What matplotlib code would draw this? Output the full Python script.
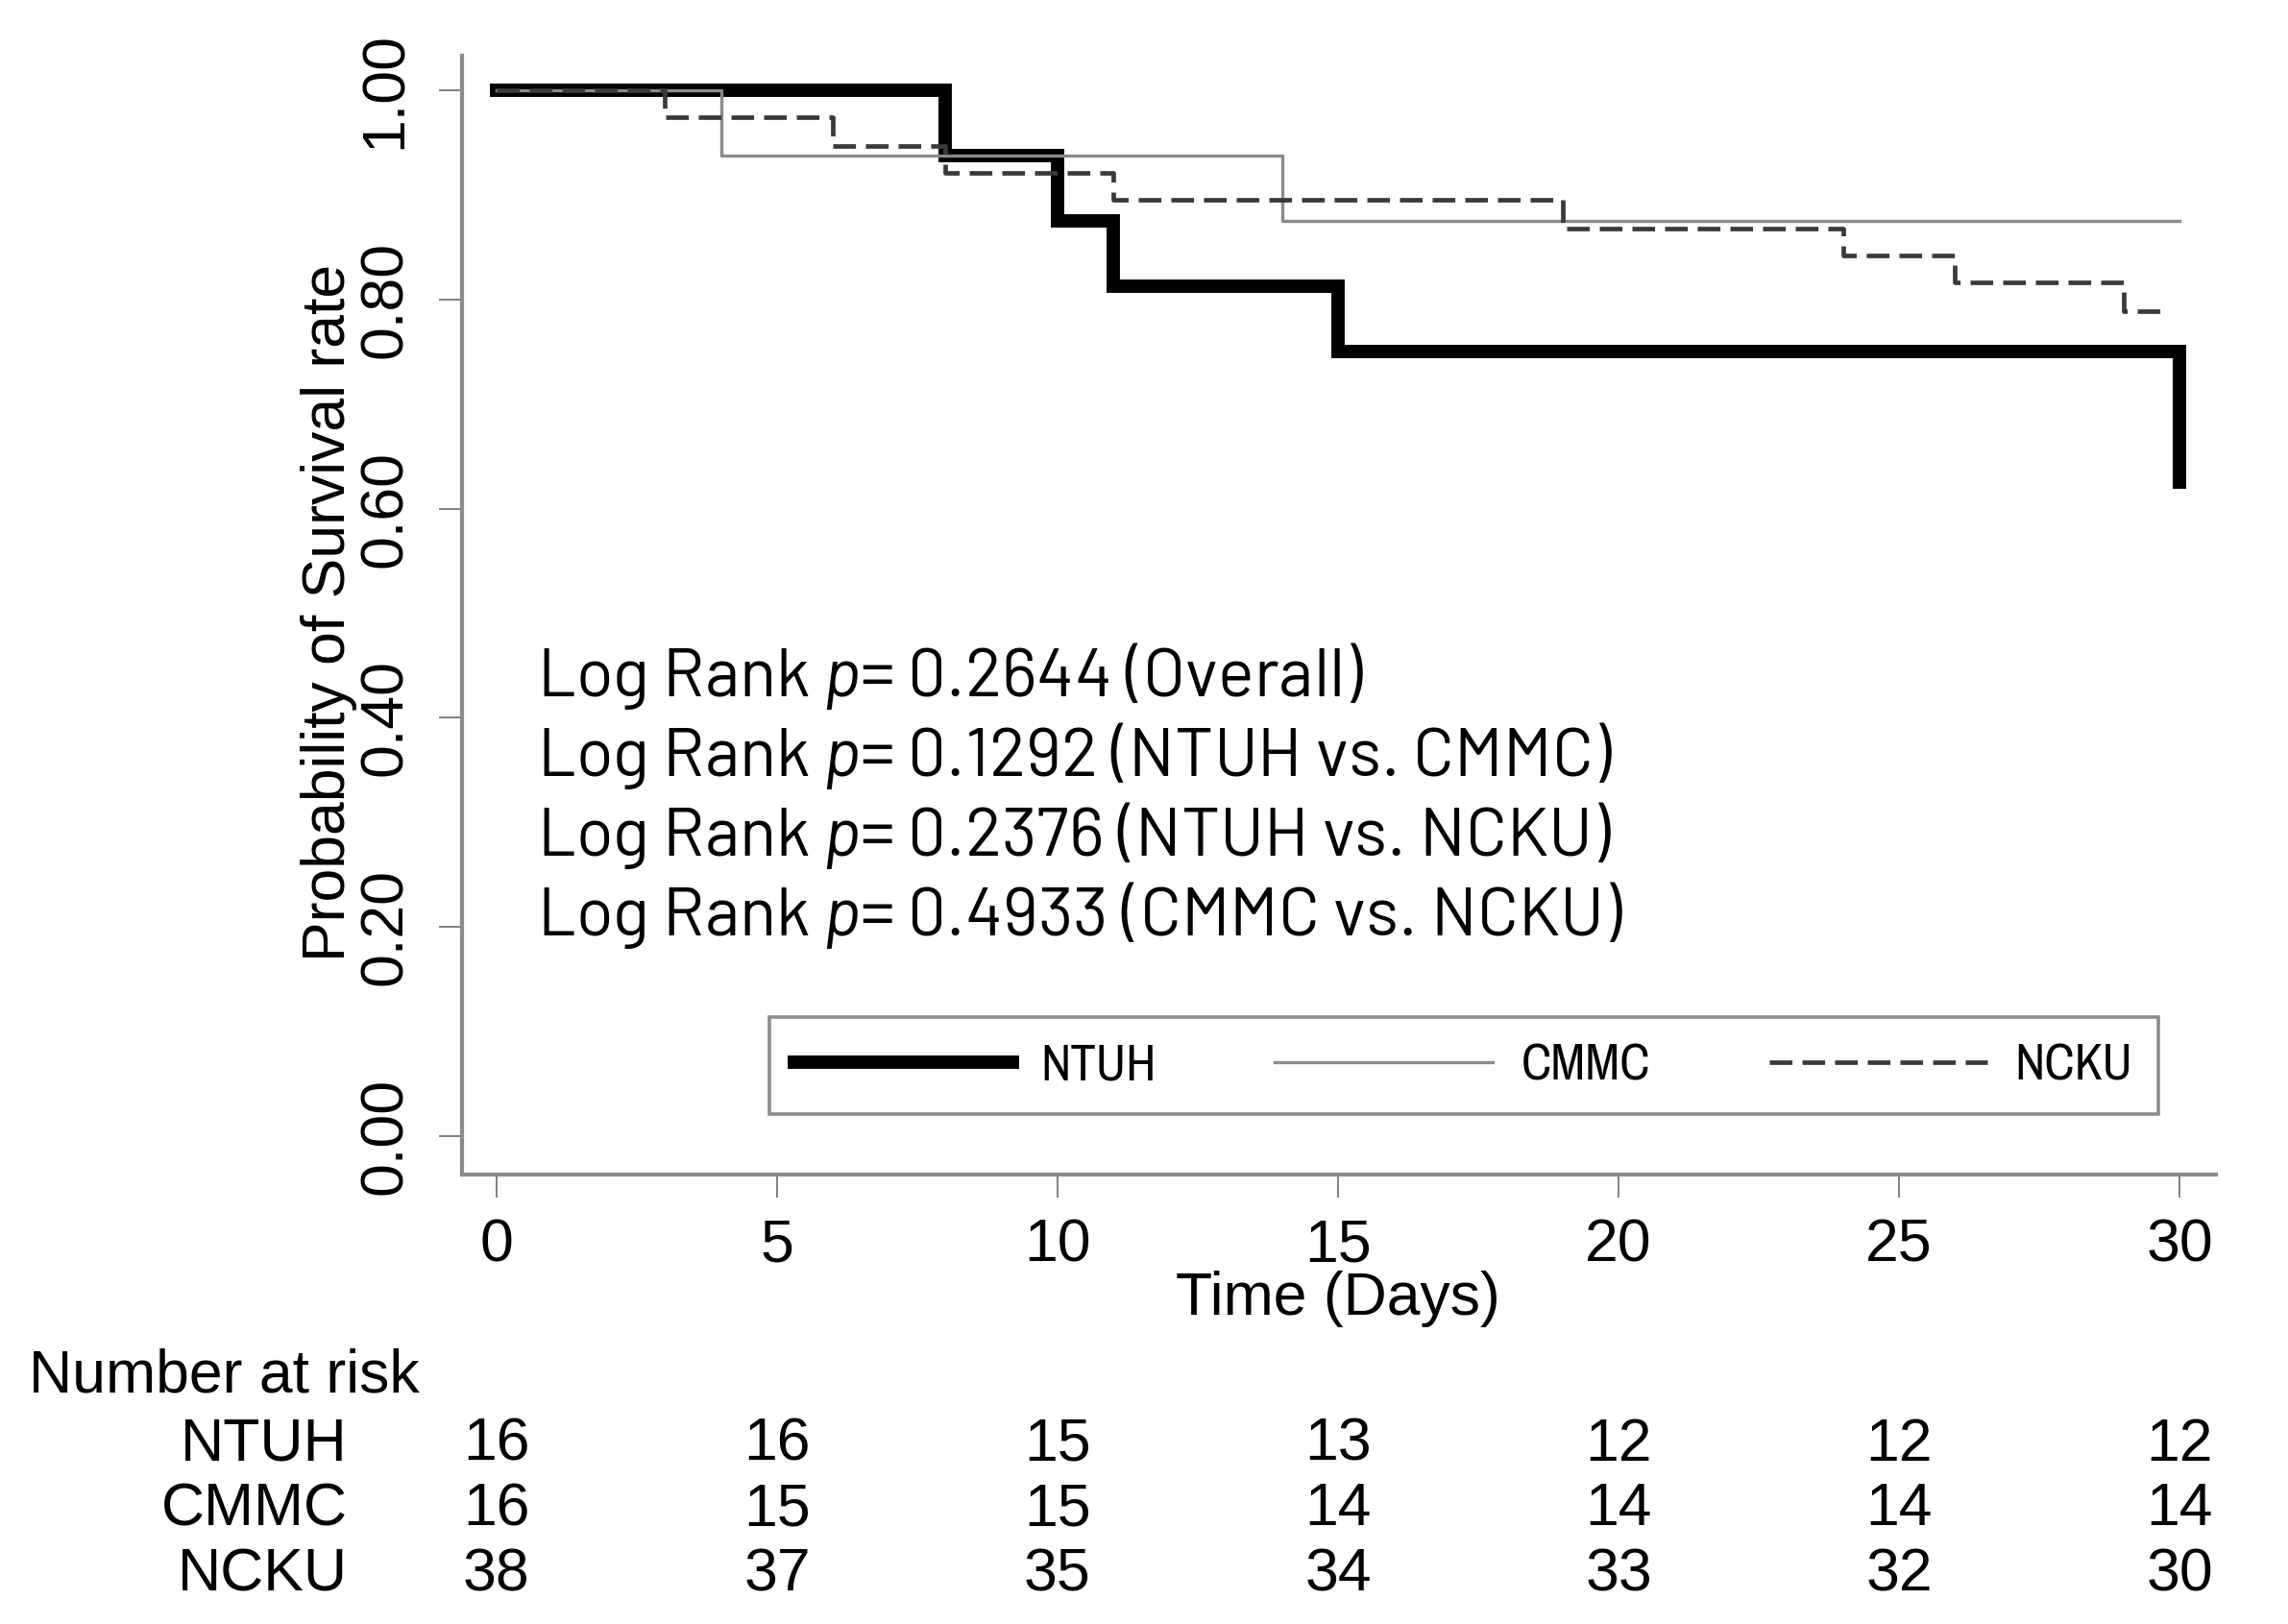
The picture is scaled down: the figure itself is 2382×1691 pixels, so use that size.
import matplotlib
matplotlib.use("Agg")
import matplotlib.pyplot as plt
from matplotlib import font_manager as fm
from matplotlib.lines import Line2D

# Kaplan-Meier steps (time in days, survival probability)
ntuh_t = [0, 8, 10, 11, 15, 30]
ntuh_s = [1.0, 0.9375, 0.875, 0.8125, 0.75, 0.625]
cmmc_t = [0, 4, 14, 30]
cmmc_s = [1.0, 0.9375, 0.875, 0.875]
ncku_t = [0, 3, 6, 8, 11, 19, 24, 26, 29, 29.65]
ncku_s = [1.0, 0.974, 0.947, 0.921, 0.895, 0.868, 0.842, 0.816, 0.789, 0.789]

groups = ["NTUH", "CMMC", "NCKU"]
risk_times = [0, 5, 10, 15, 20, 25, 30]
risk_ntuh = [16, 16, 15, 13, 12, 12, 12]
risk_cmmc = [16, 15, 15, 14, 14, 14, 14]
risk_ncku = [38, 37, 35, 34, 33, 32, 30]

pvals = ["0.2644", "0.1292", "0.2376", "0.4933"]
pcomp = ["Overall", "NTUH vs. CMMC", "NTUH vs. NCKU", "CMMC vs. NCKU"]

yticks = [0, 0.2, 0.4, 0.6, 0.8, 1.0]
xticks = [0, 5, 10, 15, 20, 25, 30]

have = {f.name for f in fm.fontManager.ttflist}
# legend text is in a narrow face, annotations in a DIN-like face
narrow_font = "Archivo Narrow" if "Archivo Narrow" in have else "Liberation Sans"
din_font = "Barlow" if "Barlow" in have else "Open Sans"

plt.rcParams["font.family"] = ["Liberation Sans", "DejaVu Sans"]
plt.rcParams["mathtext.fontset"] = "custom"
plt.rcParams["mathtext.rm"] = din_font
plt.rcParams["mathtext.it"] = din_font + ":italic"

fig = plt.figure(figsize=(23.82, 16.91), dpi=100)
ax = fig.add_axes([0.2019, 0.2768, 0.7666, 0.6889])

ax.step(ntuh_t, ntuh_s, where="post", color="black", lw=10, solid_joinstyle="miter")
ax.step(cmmc_t, cmmc_s, where="post", color="#8a8a8a", lw=2.4)
ax.step(ncku_t, ncku_s, where="post", color="#3a3a3a", lw=3.4, dashes=(5, 2.2))

ax.set_xlim(-0.616, 30.65)
ax.set_ylim(-0.0367, 1.033)
ax.set_xticks(xticks)
ax.set_yticks(yticks)
ax.set_yticklabels([f"{v:.2f}" for v in yticks], rotation=90, va="center")

for s in ["top", "right"]:
    ax.spines[s].set_visible(False)
for s in ["left", "bottom"]:
    ax.spines[s].set_color("#8c8c8c")
    ax.spines[s].set_linewidth(3)

ax.tick_params(axis="x", length=17, width=1.4, color="#808080", pad=15, labelsize=45)
ax.tick_params(axis="y", length=17, width=1.4, color="#808080", pad=19, labelsize=45)

ax.set_xlabel("Time (Days)", fontsize=45)
ax.xaxis.label.set_va("center")
ax.xaxis.set_label_coords(0.4995, -0.1116)
ax.set_ylabel("Probability of Survival rate", fontsize=45)
ax.yaxis.label.set_va("center")
ax.yaxis.set_label_coords(-0.076, 0.502)

# log rank annotations
for i, (p, c) in enumerate(zip(pvals, pcomp)):
    ax.text(0.0427, 0.4275 - i * 0.0713, f"Log Rank $p$= {p} ({c})", transform=ax.transAxes,
            fontsize=51, family=[din_font, "DejaVu Sans"], va="baseline", ha="left")

handles = [Line2D([], [], color="black", lw=10),
           Line2D([], [], color="#8a8a8a", lw=2.4),
           Line2D([], [], color="#3a3a3a", lw=3.4, dashes=(5, 2.2))]
leg = ax.legend(handles, groups, ncol=3, loc="lower left", mode="expand",
                bbox_to_anchor=(0.1752, 0.0541, 0.7919, 0.0978),
                prop={"family": narrow_font, "size": 38},
                handlelength=4.3, handletextpad=0.55, borderaxespad=0,
                fancybox=False, framealpha=1, borderpad=0.5)
leg.get_frame().set_edgecolor("#8c8c8c")
leg.get_frame().set_linewidth(2.6)

# number at risk table
ax.text(-0.247, -0.1803, "Number at risk", transform=ax.transAxes, fontsize=45,
        ha="left", va="center")
rows = [risk_ntuh, risk_cmmc, risk_ncku]
row_y = [-0.2415, -0.2995, -0.3580]
for name, vals, yy in zip(groups, rows, row_y):
    ax.text(-0.0652, yy, name, transform=ax.transAxes, fontsize=45, ha="right", va="center")
    for t, v in zip(risk_times, vals):
        ax.text(t, yy, str(v), transform=ax.get_xaxis_transform(), fontsize=45,
                ha="center", va="center")

fig.savefig("out.png", dpi=100)
